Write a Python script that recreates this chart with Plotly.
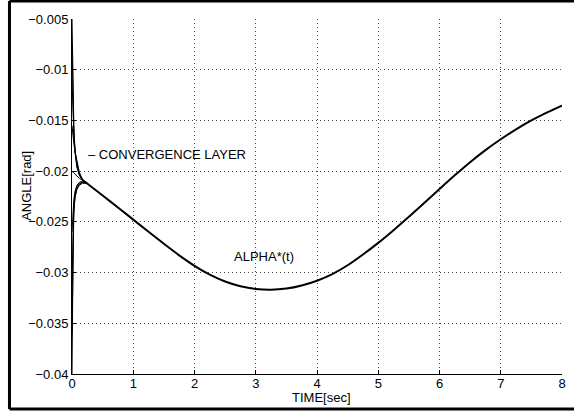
import plotly.graph_objects as go

# ---- data ----
# main trajectory ALPHA*(t)
t_main = [0.2, 0.5, 0.75, 1.0, 1.25, 1.5, 1.75, 2.0, 2.25, 2.5, 2.75, 3.0, 3.25, 3.5, 3.75,
          4.0, 4.25, 4.5, 4.75, 5.0, 5.25, 5.5, 5.75, 6.0, 6.25, 6.5, 6.75, 7.0, 7.25,
          7.5, 7.75, 8.0]
alpha_main = [-0.02100, -0.02240, -0.02358, -0.02478, -0.02598, -0.02716, -0.02830, -0.02933,
              -0.03020, -0.03088, -0.03135, -0.03162, -0.03170, -0.03158, -0.03127,
              -0.03080, -0.03015, -0.02928, -0.02822, -0.02707, -0.02582, -0.02450, -0.02314,
              -0.02176, -0.02041, -0.01912, -0.01793, -0.01686, -0.01588,
              -0.01500, -0.01423, -0.01354]

# convergence layer trajectories (time grid shared)
t_conv = [0, 0.01, 0.02, 0.03, 0.05, 0.08, 0.12, 0.17, 0.25]
conv_a = [-0.0050, -0.0095, -0.0130, -0.0155, -0.0180, -0.0196, -0.0204, -0.0208, -0.0212]
conv_b = [-0.0075, -0.0115, -0.0143, -0.0162, -0.0182, -0.0195, -0.0204, -0.0209, -0.0212]
conv_c = [-0.0110, -0.0135, -0.0152, -0.0165, -0.0180, -0.0192, -0.0203, -0.0209, -0.0212]
conv_d = [-0.0155, -0.0162, -0.0168, -0.0173, -0.0181, -0.0190, -0.0201, -0.0208, -0.0212]
conv_e = [-0.0200, -0.0201, -0.0201, -0.0202, -0.0203, -0.0205, -0.0207, -0.0209, -0.0212]
conv_f = [-0.0400, -0.0310, -0.0262, -0.0240, -0.0226, -0.0218, -0.0214, -0.0212, -0.0212]
conv_g = [-0.0360, -0.0295, -0.0258, -0.0238, -0.0225, -0.0217, -0.0213, -0.0211, -0.0212]
conv_h = [-0.0310, -0.0275, -0.0250, -0.0235, -0.0222, -0.0215, -0.0212, -0.0211, -0.0212]
conv_i = [-0.0260, -0.0245, -0.0235, -0.0228, -0.0220, -0.0214, -0.0211, -0.0210, -0.0212]
conv_series = [conv_a, conv_b, conv_c, conv_d, conv_e, conv_f, conv_g, conv_h, conv_i]

x_ticks = [0, 1, 2, 3, 4, 5, 6, 7, 8]
x_ticktext = ["0", "1", "2", "3", "4", "5", "6", "7", "8"]
y_ticks = [-0.04, -0.035, -0.03, -0.025, -0.02, -0.015, -0.01, -0.005]
y_ticktext = ["\u22120.04", "\u22120.035", "\u22120.03", "\u22120.025", "\u22120.02",
              "\u22120.015", "\u22120.01", "\u22120.005"]

FONT = "Liberation Sans, Arial, Helvetica, sans-serif"

fig = go.Figure()
for ys in conv_series:
    fig.add_trace(go.Scatter(x=t_conv, y=ys, mode="lines",
                             line=dict(color="black", width=1), showlegend=False,
                             hoverinfo="skip"))
fig.add_trace(go.Scatter(x=t_main, y=alpha_main, mode="lines",
                         line=dict(color="black", width=2, shape="spline", smoothing=1.0),
                         showlegend=False))

fig.update_layout(
    width=574, height=413,
    autosize=False,
    margin=dict(l=72, r=12, t=19, b=39, pad=0, autoexpand=False),
    paper_bgcolor="white", plot_bgcolor="white",
    font=dict(family=FONT, size=13, color="black"),
    showlegend=False,
)
grid = dict(showgrid=True, gridcolor="#4a4a4a", griddash="1px,3px", gridwidth=1)
fig.update_xaxes(range=[0, 8], tickvals=x_ticks, ticktext=x_ticktext,
                 showline=True, linecolor="black", linewidth=1,
                 ticks="inside", ticklen=4, tickcolor="black",
                 zeroline=False, mirror=False, automargin=False, ticklabelstandoff=-3,
                 **grid)
fig.update_yaxes(range=[-0.04, -0.005], tickvals=y_ticks, ticktext=y_ticktext,
                 showline=True, linecolor="black", linewidth=1,
                 ticks="inside", ticklen=4, tickcolor="black",
                 zeroline=False, mirror=False, automargin=False, **grid)

# axis titles and labels
fig.add_annotation(text="ANGLE[rad]", xref="paper", yref="paper", x=-0.0918, y=0.53,
                   textangle=-90, showarrow=False, font=dict(size=13),
                   xanchor="center", yanchor="middle")
fig.add_annotation(text="TIME[sec]", xref="paper", yref="paper", x=0.51, y=-0.066,
                   showarrow=False, font=dict(size=13), xanchor="center", yanchor="middle")
fig.add_annotation(text="\u2013 CONVERGENCE LAYER", x=0.229, y=-0.0184, xref="x", yref="y",
                   showarrow=False, xanchor="left", yanchor="middle", font=dict(size=13))
fig.add_annotation(text="ALPHA*(t)", x=2.61, y=-0.02844, xref="x", yref="y",
                   showarrow=False, xanchor="left", yanchor="middle", font=dict(size=13))

# outer frame: left, top and bottom edges (right edge lies beyond the page)
frame = dict(color="black", width=3)
fx0, fx1, fy0, fy1 = -0.1276, 1.2, -0.0986, 1.0507
fig.add_shape(type="line", xref="paper", yref="paper", x0=fx0, x1=fx0, y0=fy0, y1=fy1,
              line=frame, layer="above")
fig.add_shape(type="line", xref="paper", yref="paper", x0=fx0, x1=fx1, y0=fy1, y1=fy1,
              line=frame, layer="above")
fig.add_shape(type="line", xref="paper", yref="paper", x0=fx0, x1=fx1, y0=fy0, y1=fy0,
              line=frame, layer="above")

fig.write_html("out.html")
